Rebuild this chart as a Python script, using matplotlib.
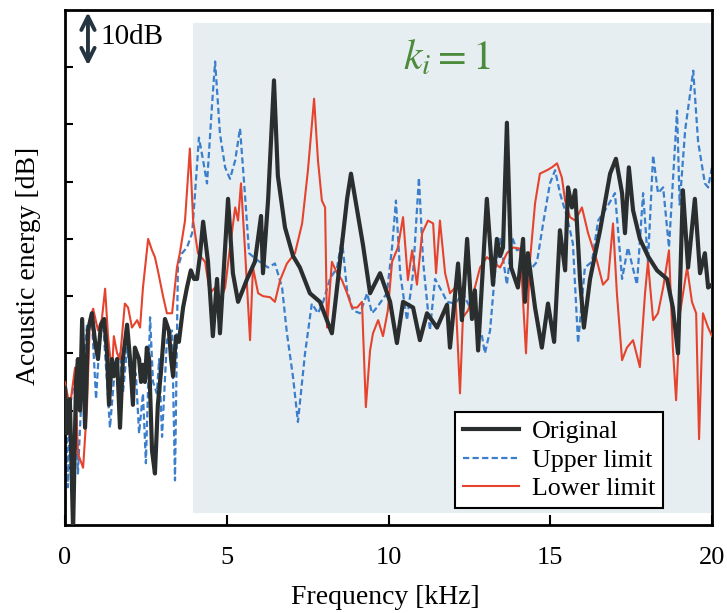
import numpy as np
import matplotlib
matplotlib.use('Agg')
import matplotlib.pyplot as plt
from matplotlib.patches import Rectangle

plt.rcParams['font.family'] = ['Liberation Serif', 'DejaVu Serif']
plt.rcParams['mathtext.fontset'] = 'stix'

# Original  (frequency kHz, acoustic energy dB)
orig_f = [0.00, 0.06, 0.15, 0.25, 0.34, 0.40, 0.46, 0.53, 0.62, 0.71,
          0.83, 0.93, 1.02, 1.11, 1.21, 1.30, 1.36, 1.45, 1.51, 1.61,
          1.70, 1.79, 1.92, 2.01, 2.10, 2.16, 2.29, 2.35, 2.41, 2.47,
          2.53, 2.60, 2.69, 2.78, 2.87, 2.97, 3.09, 3.21, 3.28, 3.34,
          3.43, 3.52, 3.65, 3.77, 3.89, 3.99, 4.08, 4.17, 4.27, 4.42,
          4.57, 4.70, 4.79, 5.04, 5.19, 5.35, 5.63, 5.87, 6.06, 6.12,
          6.28, 6.46, 6.58, 6.80, 7.05, 7.26, 7.57, 7.88, 8.25, 8.50,
          8.72, 8.84, 9.03, 9.21, 9.43, 9.74, 10.05, 10.26, 10.45, 10.76,
          10.97, 11.19, 11.50, 11.81, 11.90, 12.15, 12.27, 12.43, 12.58, 12.67,
          12.77, 13.04, 13.23, 13.35, 13.45, 13.54, 13.66, 13.79, 14.00, 14.16,
          14.22, 14.31, 14.53, 14.74, 14.93, 15.12, 15.30, 15.46, 15.55, 15.67,
          15.77, 15.92, 16.04, 16.23, 16.54, 16.85, 17.03, 17.22, 17.31, 17.43,
          17.56, 17.77, 18.02, 18.30, 18.61, 18.79, 18.95, 19.10, 19.26, 19.47,
          19.63, 19.78, 19.88, 20.00]
orig_db = [24, 16, 22, -1, 25, 29, 20, 36, 17, 34,
           37, 32, 29, 35, 36, 30, 21, 29, 26, 29,
           17, 29, 35, 29, 21, 31, 29, 25, 28, 25,
           31, 29, 13, 9, 21, 27, 36, 34, 29, 26,
           33, 32, 38, 41.5, 44.5, 43, 43, 47, 53, 46,
           33, 43, 33.5, 57, 44, 39, 43, 46, 54, 44,
           57, 77.7, 61, 52, 47, 45, 40.5, 39, 33.5, 46,
           57, 61.4, 55, 49, 40.5, 44, 39, 31.8, 39, 38,
           32.3, 37, 34.5, 38.5, 31, 45.7, 35.8, 50, 36, 41,
           30.5, 57, 42, 50, 47, 48.5, 70.3, 45, 41.5, 50,
           39, 47.5, 38, 31, 38.7, 32, 51.5, 44.5, 59, 55.5,
           58.5, 43, 34.5, 43, 51.5, 61.4, 64, 58, 51, 62.5,
           55, 50, 47, 44.5, 43, 38, 30, 58.5, 45, 57,
           44, 47.5, 41.5, 42]

# Upper limit
upper_f = [0.00, 0.06, 0.09, 0.15, 0.31, 0.40, 0.53, 0.68, 0.83, 0.96,
           1.08, 1.17, 1.39, 1.55, 1.70, 1.79, 1.92, 2.07, 2.19, 2.29,
           2.41, 2.50, 2.63, 2.72, 2.84, 2.91, 3.00, 3.15, 3.31, 3.40,
           3.49, 3.62, 3.77, 3.93, 4.02, 4.14, 4.27, 4.39, 4.54, 4.64,
           4.79, 4.95, 5.10, 5.26, 5.41, 5.56, 5.69, 5.87, 6.09, 6.28,
           6.49, 6.71, 6.86, 7.05, 7.20, 7.42, 7.63, 7.82, 7.98, 8.19,
           8.41, 8.56, 8.72, 8.90, 9.12, 9.34, 9.49, 9.64, 9.95, 10.11,
           10.23, 10.36, 10.57, 10.76, 10.94, 11.07, 11.28, 11.44, 11.68, 11.81,
           12.06, 12.30, 12.61, 12.89, 12.98, 13.14, 13.29, 13.45, 13.66, 13.82,
           13.97, 14.16, 14.37, 14.59, 14.78, 14.99, 15.15, 15.30, 15.52, 15.70,
           15.86, 16.07, 16.29, 16.48, 16.75, 17.00, 17.22, 17.40, 17.68, 17.87,
           18.02, 18.18, 18.33, 18.49, 18.67, 18.92, 19.00, 19.17, 19.42, 19.57,
           19.78, 19.88, 20.00]
upper_db = [22, 15, 6.6, 20.6, 26, 9, 25, 35, 36, 22,
            33.5, 36, 17, 28, 30, 23, 31, 24, 26.5, 16,
            23, 10.8, 36.3, 25, 23, 29, 15.4, 32.3, 34, 7.8,
            45, 47.5, 48.5, 51, 58, 67.7, 63.7, 59.7, 73, 81,
            68.4, 62.5, 60.5, 63.7, 69.3, 58, 47.5, 46.6, 45.7, 45,
            45.7, 41.5, 33.5, 25.8, 18, 30, 38.7, 37, 39, 43,
            45, 50, 41, 37.5, 37, 40.5, 37, 38, 40.5, 48.5,
            56.7, 44, 35.8, 44, 60.7, 46, 34, 43, 40.5, 39,
            38.7, 40.5, 37, 33, 30, 34, 44, 50, 42, 50.3,
            48, 48.5, 44.5, 46, 52.7, 59.7, 62, 58, 53.8, 49.2,
            31.8, 45, 46, 53.2, 55.5, 58, 43, 48.5, 42, 58,
            46, 64.6, 58, 59, 48.5, 72.4, 56, 69, 79.4, 67,
            59.7, 59, 62.5]

# Lower limit
lower_f = [0.00, 0.15, 0.31, 0.40, 0.56, 0.68, 0.77, 0.87, 1.02, 1.14,
           1.24, 1.33, 1.45, 1.51, 1.61, 1.70, 1.85, 1.95, 2.07, 2.23,
           2.32, 2.41, 2.57, 2.69, 2.78, 2.87, 3.03, 3.15, 3.31, 3.46,
           3.55, 3.71, 3.86, 3.96, 4.11, 4.33, 4.48, 4.64, 4.79, 4.95,
           5.10, 5.26, 5.35, 5.44, 5.56, 5.72, 5.81, 5.97, 6.12, 6.34,
           6.49, 6.65, 6.86, 7.11, 7.33, 7.51, 7.70, 7.82, 7.94, 8.04,
           8.10, 8.25, 8.41, 8.56, 8.72, 8.87, 9.03, 9.18, 9.30, 9.43,
           9.52, 9.68, 9.83, 9.98, 10.11, 10.29, 10.45, 10.60, 10.73, 10.88,
           11.04, 11.22, 11.38, 11.47, 11.59, 11.75, 11.90, 12.06, 12.21, 12.30,
           12.46, 12.67, 12.83, 13.04, 13.23, 13.45, 13.66, 13.85, 14.07, 14.25,
           14.37, 14.53, 14.68, 14.90, 15.05, 15.21, 15.36, 15.46, 15.61, 15.77,
           15.98, 16.17, 16.45, 16.63, 16.79, 16.94, 17.06, 17.22, 17.37, 17.56,
           17.77, 17.93, 18.02, 18.18, 18.33, 18.49, 18.67, 18.79, 18.89, 19.01,
           19.23, 19.38, 19.51, 19.60, 19.72, 19.88, 20.00]
lower_db = [25, 20.6, 27.5, 12.5, 10, 20.6, 36, 37.8, 34, 36,
            41.3, 33, 26.5, 33, 30, 29, 38.7, 38, 34.5, 35.8,
            34.5, 41.5, 50, 48, 46.8, 44.5, 40, 37, 37, 45,
            47.5, 53.2, 65.8, 53.2, 47.5, 46, 40.5, 41.5, 39, 41.5,
            48.5, 55.5, 53.2, 59.7, 48.5, 32.3, 45, 40.5, 40, 39.8,
            39, 42.8, 45.7, 47.5, 52.7, 62, 74.5, 63.7, 56.7, 55.5,
            34.5, 46, 44, 42.8, 40.5, 38, 38, 39, 20.6, 30.5,
            33.5, 35.8, 33, 37.5, 46, 48.5, 53.8, 42.8, 48, 42,
            51, 53.2, 52.7, 44, 53.2, 44, 40.5, 41.5, 23, 36.3,
            37.5, 41.5, 45, 46.8, 46, 45, 47.5, 48.5, 48.3, 30,
            46, 56.2, 61.4, 62, 62.5, 63.2, 60.7, 56.7, 53.8, 53.2,
            55.5, 51, 46, 42, 43, 52.7, 40.5, 28.8, 31, 32.3,
            27.6, 40.5, 46, 35.8, 37, 41.5, 48, 31, 21.8, 37,
            45, 39, 37, 15, 37, 34.5, 33]

xticks = [0, 5, 10, 15, 20]
yticks = [10, 20, 30, 40, 50, 60, 70, 80]

fig = plt.figure(figsize=(7.27, 6.13), dpi=100)
ax = fig.add_axes([65 / 727, 88 / 613, 647 / 727, 515 / 613])
ax.set_xlim(0, 20)
ax.set_ylim(0, 90)

# shaded band (k_i applied region)
ax.add_patch(Rectangle((3.95, 2.1), 16.05, 85.7, facecolor='#e7eef1', edgecolor='none', zorder=0))

ax.plot(upper_f, upper_db, color='#3b7fcc', lw=1.6, ls=(0, (2.8, 1.5)), label='Upper limit', zorder=2)
ax.plot(lower_f, lower_db, color='#e5432d', lw=1.5, label='Lower limit', zorder=3)
ax.plot(orig_f, orig_db, color='#2b2e2e', lw=3.0, label='Original', zorder=4)

ax.set_xticks(xticks)
ax.set_yticks(yticks)
ax.set_yticklabels([])
ax.tick_params(axis='x', direction='in', length=7, width=1.5, labelsize=19, pad=16)
ax.tick_params(axis='y', direction='in', length=6, width=1.5)
for s in ax.spines.values():
    s.set_linewidth(2)

fig.text(385 / 727, 1 - 597 / 613, 'Frequency [kHz]', fontsize=20, ha='center', va='center')
fig.text(29 / 727, 1 - 266 / 613, 'Acoustic energy [dB]', fontsize=20, ha='center', va='center', rotation=90)

# 10 dB scale arrow
ax.annotate('', xy=(0.71, 89.6), xytext=(0.71, 80.3),
            arrowprops=dict(arrowstyle='<->', color='#243440', lw=2.8, mutation_scale=24,
                            shrinkA=0, shrinkB=0))
ax.text(1.08, 85.2, '10dB', fontsize=21, ha='left', va='center')

ax.text(0.59, 0.905, r'$k_i = 1$', transform=ax.transAxes, fontsize=30,
        color='#4b8b3b', ha='center', va='center')

h, l = ax.get_legend_handles_labels()
order = [2, 0, 1]
leg = ax.legend([h[i] for i in order], [l[i] for i in order], loc='lower right',
                bbox_to_anchor=(0.924, 0.033), fontsize=18.7, frameon=True, fancybox=False,
                framealpha=1, edgecolor='black', borderaxespad=0, labelspacing=0.2,
                handlelength=2.15, handletextpad=0.5, borderpad=0.3)
leg.get_frame().set_linewidth(1.5)

fig.savefig('out.png', dpi=100)
